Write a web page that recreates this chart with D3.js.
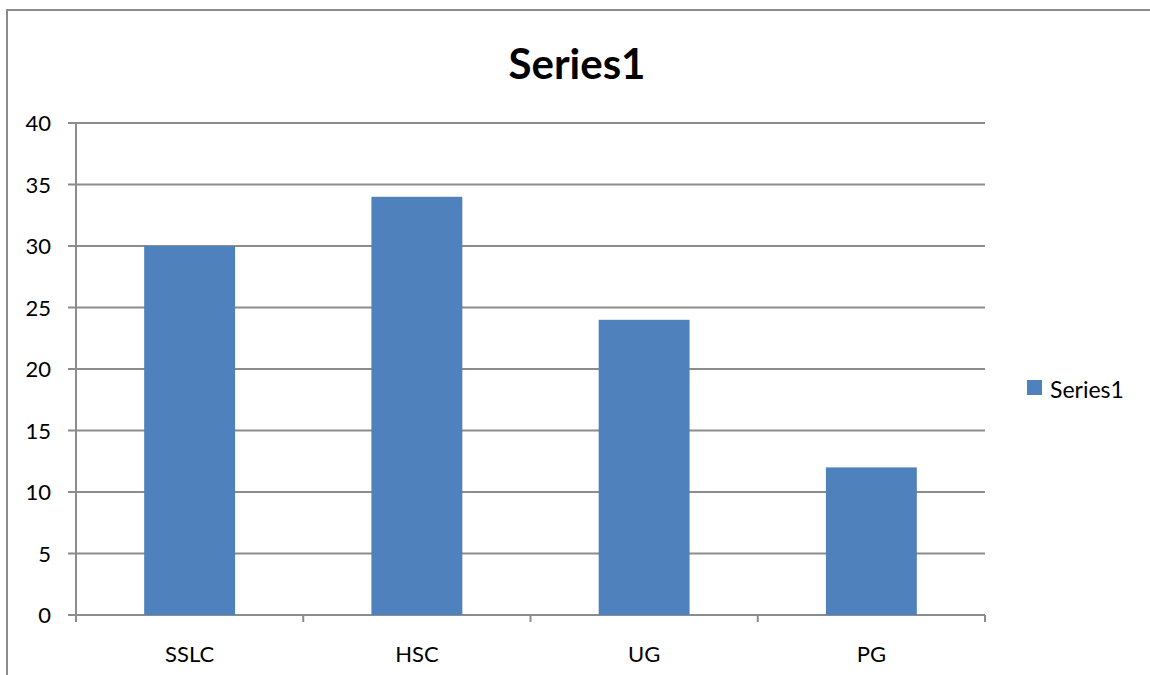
<!DOCTYPE html>
<html><head><meta charset="utf-8">
<script src="https://cdn.jsdelivr.net/npm/d3@7"></script>
<style>body{margin:0;background:#fff}svg{display:block}text{font-family:Lato,"Open Sans",sans-serif}</style>
</head><body>
<svg id="c" width="1150" height="675"></svg>
<script>
const categories = ["SSLC","HSC","UG","PG"];
const values = [30,34,24,12];
const yTicks = [0,5,10,15,20,25,30,35,40];
const seriesName = "Series1";

const svg = d3.select("#c");
const grid = "#8c8c8c";
svg.append("rect").attr("x",7).attr("y",10).attr("width",1300).attr("height",800)
  .attr("fill","#fff").attr("stroke",grid).attr("stroke-width",2);

const L=76,R=985,T=123,B=615;
const x = d3.scaleBand().domain(categories).range([L,R]).paddingInner(0.6).paddingOuter(0.3);
const y = d3.scaleLinear().domain([0,40]).range([B,T]);

// gridlines
svg.append("g").selectAll("line").data(yTicks).join("line")
  .attr("x1",68).attr("x2",R).attr("y1",d=>y(d)).attr("y2",d=>y(d))
  .attr("stroke",grid).attr("stroke-width",2);

// y axis line
svg.append("line").attr("x1",L).attr("x2",L).attr("y1",T).attr("y2",B+7).attr("stroke",grid).attr("stroke-width",2);
// x axis ticks between categories
const step = x.step();
const bounds = d3.range(categories.length+1).map(i=>L+i*step);
svg.append("g").selectAll("line").data(bounds).join("line")
  .attr("x1",d=>d).attr("x2",d=>d).attr("y1",B).attr("y2",B+7)
  .attr("stroke",grid).attr("stroke-width",2);

// bars
svg.append("g").selectAll("rect").data(values).join("rect")
  .attr("x",(d,i)=>x(categories[i])).attr("width",x.bandwidth())
  .attr("y",d=>y(d)).attr("height",d=>B-y(d)).attr("fill","#4F81BD");

// y labels
svg.append("g").selectAll("text").data(yTicks).join("text")
  .attr("x",51).attr("y",d=>y(d)+8).attr("text-anchor","end")
  .attr("font-size",22).attr("fill","#000").text(d=>d);

// x labels
svg.append("g").selectAll("text").data(categories).join("text")
  .attr("x",d=>x(d)+x.bandwidth()/2).attr("y",662).attr("text-anchor","middle")
  .attr("font-size",22).attr("fill","#000").text(d=>d);

// title
svg.append("text").attr("x",577).attr("y",79).attr("text-anchor","middle")
  .attr("font-size",42).attr("font-weight","bold").attr("fill","#000").text(seriesName);

// legend
svg.append("rect").attr("x",1027).attr("y",380).attr("width",15).attr("height",15).attr("fill","#4F81BD");
svg.append("text").attr("x",1050).attr("y",398).attr("font-size",23).attr("fill","#000").text(seriesName);
</script>
</body></html>
